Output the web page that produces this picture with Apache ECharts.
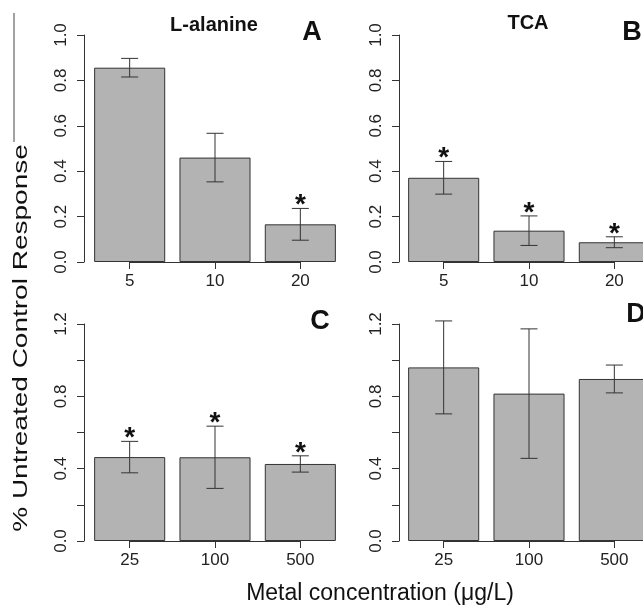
<!DOCTYPE html>
<html>
<head>
<meta charset="utf-8">
<script src="https://cdn.jsdelivr.net/npm/echarts@6/dist/echarts.min.js"></script>
<style>
  html, body { margin: 0; padding: 0; background: #fff; }
  #chart { width: 643px; height: 607px; }
</style>
</head>
<body>
<div id="chart"></div>
<script>
// concentrations (ug/L)
const doseTop = ["5", "10", "20"];
const doseBottom = ["25", "100", "500"];

// mean response and error half-width, per panel
const alanineMean = [0.856, 0.46, 0.166];
const alanineErr = [0.041, 0.107, 0.07];
const alanineStar = [0, 0, 1];

const tcaMean = [0.371, 0.138, 0.087];
const tcaErr = [0.072, 0.065, 0.024];
const tcaStar = [1, 1, 1];

const cMean = [0.464, 0.463, 0.426];
const cErr = [0.087, 0.172, 0.045];
const cStar = [1, 1, 1];

const dMean = [0.96, 0.815, 0.896];
const dErr = [0.257, 0.358, 0.077];
const dStar = [0, 0, 0];

const FONT = "'Liberation Sans', Arial, Helvetica, sans-serif";
const INK = "#222";
const BAR = "#b3b3b3";

const panels = [
  { cats: doseTop, mean: alanineMean, err: alanineErr, star: alanineStar, max: 1.0, left: 87, top: 35, h: 227, off: 3 },
  { cats: doseTop, mean: tcaMean, err: tcaErr, star: tcaStar, max: 1.0, left: 401, top: 35, h: 227, off: 2 },
  { cats: doseBottom, mean: cMean, err: cErr, star: cStar, max: 1.2, left: 87, top: 324, h: 217, off: 3 },
  { cats: doseBottom, mean: dMean, err: dErr, star: dStar, max: 1.2, left: 401, top: 324, h: 217, off: 2 },
];

function renderErr(params, api) {
  const x = api.value(0);
  const m = api.value(1);
  const e = api.value(2);
  const s = api.value(3);
  const hi = api.coord([x, m + e]);
  const lo = api.coord([x, m - e]);
  const w = 8.5;
  const st = { stroke: "#333", lineWidth: 1 };
  const children = [
    { type: "line", shape: { x1: hi[0], y1: hi[1], x2: lo[0], y2: lo[1] }, style: st },
    { type: "line", shape: { x1: hi[0] - w, y1: hi[1], x2: hi[0] + w, y2: hi[1] }, style: st },
    { type: "line", shape: { x1: lo[0] - w, y1: lo[1], x2: lo[0] + w, y2: lo[1] }, style: st },
  ];
  if (s) {
    children.push({
      type: "text",
      x: hi[0],
      y: hi[1] - 3,
      style: { text: "*", font: "bold 28px " + FONT, fill: "#111", align: "center", verticalAlign: "middle" },
    });
  }
  return { type: "group", children };
}

const grid = [], xAxis = [], yAxis = [], series = [];
panels.forEach((p, i) => {
  grid.push({ left: p.left, top: p.top, width: 256, height: p.h, outerBoundsMode: "none" });
  xAxis.push({
    type: "category",
    gridIndex: i,
    data: p.cats,
    axisLine: { show: false },
    axisTick: { show: true, alignWithLabel: true, length: 7, lineStyle: { color: "#333" } },
    axisLabel: { color: INK, fontSize: 17, fontFamily: FONT, margin: 11 },
  });
  yAxis.push({
    type: "value",
    gridIndex: i,
    min: 0,
    max: p.max,
    interval: 0.2,
    offset: p.off,
    splitLine: { show: false },
    axisLine: { show: true, lineStyle: { color: "#333" } },
    axisTick: { show: true, length: 7, lineStyle: { color: "#333" } },
    axisLabel: {
      rotate: 90,
      color: INK,
      fontSize: 17,
      fontFamily: FONT,
      margin: 14,
      formatter: (v) => {
        if (p.max > 1 && Math.round(v * 10) % 4 !== 0) return "";
        return v.toFixed(1);
      },
    },
  });
  series.push({
    type: "bar",
    xAxisIndex: i,
    yAxisIndex: i,
    data: p.mean,
    barCategoryGap: "16.7%",
    itemStyle: { color: BAR, borderColor: "#333", borderWidth: 1 },
    silent: true,
    markLine: {
      silent: true,
      symbol: "none",
      label: { show: false },
      lineStyle: { color: "#333", type: "solid", width: 1 },
      data: [[{ coord: [p.cats[0], 0] }, { coord: [p.cats[p.cats.length - 1], 0] }]],
    },
  });
  series.push({
    type: "custom",
    xAxisIndex: i,
    yAxisIndex: i,
    z: 5,
    silent: true,
    renderItem: renderErr,
    data: p.mean.map((m, k) => [k, m, p.err[k], p.star[k]]),
  });
});

const txt = (text, x, y, font, extra) => Object.assign({
  type: "text", x, y,
  style: { text, font, fill: "#111", align: "center", verticalAlign: "middle" },
}, extra || {});

const chart = echarts.init(document.getElementById("chart"), null, { renderer: "canvas" });
chart.setOption({
  backgroundColor: "#fff",
  animation: false,
  grid, xAxis, yAxis, series,
  graphic: [
    txt("L-alanine", 214, 25, "bold 20px " + FONT),
    txt("TCA", 528, 23, "bold 20px " + FONT),
    txt("A", 312, 33, "bold 27px " + FONT),
    txt("B", 632, 33, "bold 27px " + FONT),
    txt("C", 320, 322, "bold 27px " + FONT),
    txt("D", 636, 315, "bold 27px " + FONT),
    txt("Metal concentration (\u03bcg/L)", 380, 594, "23px " + FONT),
    txt("% Untreated Control Response", 21, 338, "20px " + FONT, { rotation: Math.PI / 2, scaleX: 1.4 }),
    { type: "line", shape: { x1: 14, y1: 13, x2: 14, y2: 142 }, style: { stroke: "#444", lineWidth: 1 } },
  ],
});
</script>
</body>
</html>
